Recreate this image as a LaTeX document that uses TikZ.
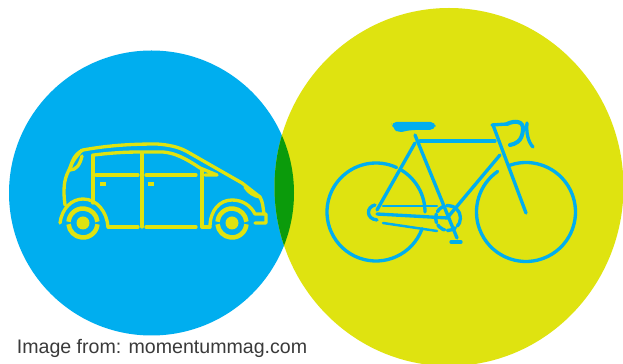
\documentclass[tikz,border=0pt]{standalone}
\usepackage{fontspec}
\setmainfont{Liberation Sans}
\usepackage{tikz}
\definecolor{signBlue}{HTML}{00AEEF}
\definecolor{signYellow}{HTML}{DFE310}
\definecolor{signGreen}{HTML}{0B9B0B}
\definecolor{signText}{HTML}{3A3A3A}
\begin{document}
\begin{tikzpicture}[x=0.02cm,y=-0.02cm,line join=round,line cap=round,
    carline/.style={draw=signYellow,line width=1.9pt},
    bikeline/.style={draw=signBlue,line width=1.9pt}]
  \clip (0,0) rectangle (623,364);
  \fill[white] (0,0) rectangle (623,364);
  % the two discs and their overlap
  \fill[signBlue] (151.5,193) circle (142.5);
  \fill[signYellow] (449,187) ellipse (174.5 and 179);
  \begin{scope}
    \clip (151.5,193) circle (142.5);
    \fill[signGreen] (449,187) ellipse (174.5 and 179);
  \end{scope}
  % car
  \draw[carline] (65,205) .. controls (63,190) and (64,180) .. (68,172)
    .. controls (72,165) and (72,155) .. (83,150)
    .. controls (110,145) and (135,144) .. (157,144)
    .. controls (170,145) and (178,147) .. (186,151)
    -- (242,183) -- (260,197) .. controls (263,202) and (263,208) .. (264,214)
    -- (266,214) -- (266,223) -- (255,223);
  \draw[carline] (82,156) .. controls (80,165) and (76,170) .. (70,170);
  \draw[carline] (82,150) .. controls (78,155) and (72,160) .. (70,170);
  \draw[carline] (94,155) .. controls (110,153) and (125,152) .. (140,152)
    -- (163,152) .. controls (175,153) and (185,158) .. (200,168) -- (217,175) -- (205,175);
  \draw[carline] (93,155) -- (93,203);
  \draw[carline] (142,153) -- (142,227);
  \draw[carline] (202,170) -- (202,227);
  \draw[carline] (96,175) -- (138,175);
  \draw[carline] (146,175) -- (196,175);
  \draw[carline] (108,227) -- (138,227);
  \draw[carline] (146,227) -- (196,227);
  \draw[carline] (202,227) -- (210,227);
  \draw[carline] (60,223) .. controls (62,208) and (72,199) .. (83,199)
    .. controls (97,199) and (107,212) .. (108,227);
  \draw[carline] (210,227) .. controls (210,210) and (220,200) .. (232,200)
    .. controls (243,200) and (251,206) .. (255,214) -- (264,214);
  \draw[carline] (245,187) .. controls (249,193) and (254,196) .. (260,197);
  \fill[signYellow] (100,182) rectangle (106,186);
  \fill[signYellow] (148,182) rectangle (154,186);
  \foreach \wx in {83,232}{
    \draw[draw=signYellow,line width=2.6pt,line cap=butt] (\wx,223) ++(185:14.5) arc[start angle=185,end angle=355,radius=14.5];
    \draw[draw=signYellow,line width=2.6pt,line cap=butt] (\wx,223) ++(5:14.5) arc[start angle=5,end angle=175,radius=14.5];
    \fill[signYellow] (\wx,223) circle (6.5);
  }
  % bicycle
  \draw[bikeline] (376,212) ++(20:49) arc[start angle=20,end angle=295,radius=49];
  \draw[bikeline] (376,212) ++(302:49) arc[start angle=302,end angle=360,radius=49];
  \draw[bikeline] (526,212) ++(250:49.5) arc[start angle=250,end angle=595,radius=49.5];
  \fill[signBlue,rounded corners=3pt] (391,122) -- (436,122) -- (435,130) -- (410,130) -- (398,133) -- (393,128) -- cycle;
  \draw[bikeline] (415,135) -- (457,238);
  \draw[bikeline] (451,242) -- (461,242);
  \draw[bikeline] (415,143) -- (377,210);
  \draw[bikeline] (420,141) -- (495,141);
  \draw[bikeline] (500,155) -- (448,217);
  \draw[bikeline] (493,125) -- (526,213);
  \draw[bikeline] (377,214) -- (448,218);
  \draw[bikeline,line width=1.4pt] (383,206) -- (437,206);
  \draw[bikeline,line width=1.4pt] (383,223) -- (437,231);
  \draw[bikeline] (375,205) .. controls (366,207) and (366,219) .. (377,220);
  \draw[bikeline,dash pattern=on 5pt off 1.5pt] (448,218) circle (12.5);
  \draw[bikeline] (492,125) -- (507,124);
  \draw[bikeline,line width=2.3pt] (507,124) .. controls (515,120) and (524,121) .. (523,130)
    .. controls (522,142) and (515,144) .. (510,145);
  \draw[bikeline] (527,123) .. controls (526,132) and (528,142) .. (533,147);
  % credit line
  \node[anchor=west,inner sep=0pt,text=signText,font=\fontsize{11.15}{13}\selectfont] (credit) at (16.5,348)
    {Image from: momentummag.com};
\end{tikzpicture}
\end{document}
